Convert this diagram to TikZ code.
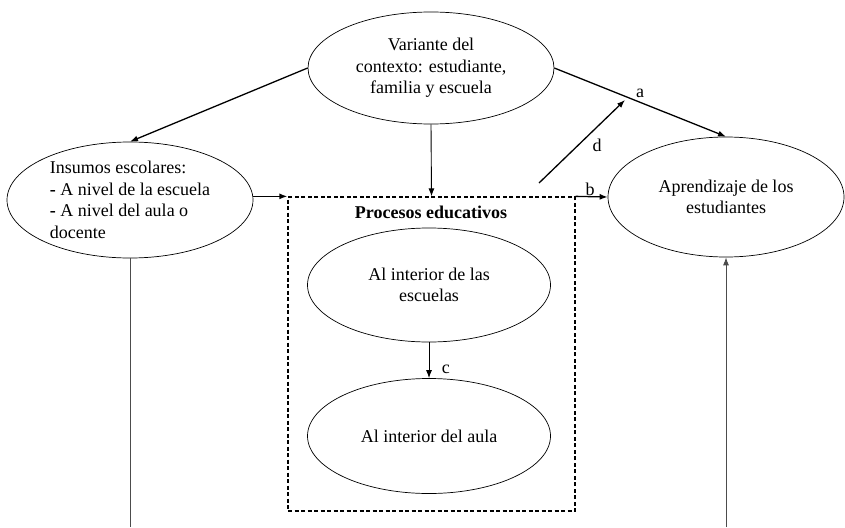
\documentclass[tikz,border=0pt]{standalone}
\usepackage{fontspec}
\setmainfont{Liberation Serif}
\usetikzlibrary{shapes.geometric,arrows.meta}

\begin{document}
\begin{tikzpicture}[x=1pt,y=-1pt,
  my ellipse/.style={
    draw, ellipse, line width=0.7pt, inner sep=0pt,
    font=\fontsize{18}{21.5}\selectfont,
  },
  my arrow/.style={
    -{Latex[length=8pt,width=6pt]}, line width=1.3pt,
  },
  every node/.append style={font=\fontsize{18}{21.5}\selectfont}]
  \useasboundingbox (0,0) rectangle (845,527);
  \coordinate (bottom) at (0,527);
  \node[my ellipse, align=center, minimum width=246, minimum height=112] (ctx) at (431,68) {Variante del\\contexto: estudiante,\\familia y escuela};
  \node[my ellipse, align=left, minimum width=246, minimum height=116] (ins) at (130,200) {Insumos escolares:\\\textbf{-} A nivel de la escuela\\\textbf{-} A nivel del aula o\\docente};
  \node[my ellipse, align=center, minimum width=236, minimum height=120] (out) at (726,197) {Aprendizaje de los\\estudiantes};
  \node[draw, line width=1.3pt, dash pattern=on 4pt off 2.5pt, minimum width=287, minimum height=314] (box) at (431.5,354) {};
  \node[font=\bfseries\fontsize{18}{21.5}\selectfont] (title) at (431,212) {Procesos educativos};
  \node[my ellipse, align=center, minimum width=243, minimum height=114] (esc) at (429,285) {Al interior de las\\escuelas};
  \node[my ellipse, align=center, minimum width=243, minimum height=115] (aula) at (429,436) {Al interior del aula};
  \coordinate (d0) at (539,183);
  \coordinate (d1) at (625,100);
  \draw[my arrow] (ctx.west) -- (ins.north);
  \draw[my arrow] (ctx.east) -- node[pos=0.5, above=1pt] {a} (out.north);
  \draw[my arrow, line width=0.9pt] (ctx.south) -- (box.north);
  \draw[my arrow] (ins.east |- box.north) -- (box.north west);
  \draw[my arrow] (box.north east) -- node[pos=0.45, above, inner sep=0pt] {b} (out.west);
  \draw[my arrow] (d0) -- node[pos=0.45, right=11pt] {d} (d1);
  \draw[my arrow, line width=0.9pt] (esc.south) -- node[pos=0.75, right=9pt] {c} (aula.north);
  \draw[black!70, line width=0.9pt] (ins.south) -- (ins.south |- bottom);
  \draw[my arrow, draw=black!70, line width=0.9pt] (out.south |- bottom) -- (out.south);
\end{tikzpicture}
\end{document}
